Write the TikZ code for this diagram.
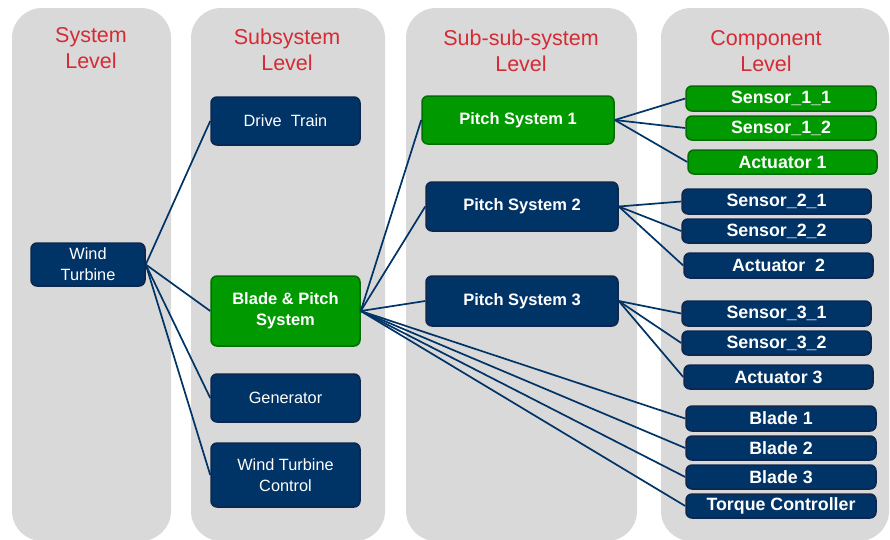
\documentclass[tikz,border=0pt]{standalone}
\usepackage{fontspec}
\setmainfont{Liberation Sans}
\definecolor{navy}{RGB}{0,51,102}
\definecolor{navyedge}{RGB}{14,38,76}
\definecolor{grn}{RGB}{0,153,0}
\definecolor{grnedge}{RGB}{0,110,0}
\definecolor{colbg}{RGB}{217,217,217}
\definecolor{titlered}{RGB}{213,43,52}
\definecolor{linkc}{RGB}{0,51,102}
\begin{document}
\begin{tikzpicture}[x=1pt,y=-1pt,
 col/.style={fill=colbg, rounded corners=30pt},
 ttl/.style={text=titlered, font=\fontsize{21.5}{26}\selectfont, align=center},
 box/.style={draw=navyedge, fill=navy, line width=1.5pt, rounded corners=6pt, text=white, align=center, inner sep=0pt},
 gbox/.style={box, draw=grnedge, fill=grn},
 sub/.style={font=\fontsize{16.3}{21}\selectfont},
 subb/.style={font=\fontsize{16.5}{21}\selectfont\bfseries},
 comp/.style={font=\fontsize{17.8}{20}\selectfont\bfseries},
 link/.style={draw=linkc, line width=1.7pt}
]
\useasboundingbox (0,0) rectangle (890,539);
\begin{scope}
\clip (0,0) rectangle (890,539);
\fill[col] (12,8) rectangle (171,541);
\fill[col] (191,8) rectangle (385,541);
\fill[col] (406,8) rectangle (637,541);
\fill[col] (661,8) rectangle (889,541);
\end{scope}

\node[ttl] (t1) at (91,48) {System\\Level};
\node[ttl] (t2) at (287,50) {Subsystem\\Level};
\node[ttl] (t3) at (521,51) {Sub-sub-system\\Level};
\node[ttl] (t4) at (766,51) {Component\\Level};

% system / subsystem
\node[box, sub, minimum width=114pt, minimum height=43pt] (wt) at (88,264.5) {Wind\\Turbine};
\node[box, sub, minimum width=149pt, minimum height=48pt] (dt) at (285.5,121) {Drive~~Train};
\node[gbox, subb, minimum width=149pt, minimum height=70pt] (bp) at (285.5,311) {Blade \& Pitch\\System};
\node[box, sub, minimum width=149pt, minimum height=48pt] (gen) at (285.5,398) {Generator};
\node[box, sub, minimum width=149pt, minimum height=64pt] (wtc) at (285.5,475) {Wind Turbine\\Control};

% sub-sub-system
\node[gbox, subb, minimum width=192pt, minimum height=48pt] (ps1) at (518,120) {Pitch System 1};
\node[box, subb, minimum width=192pt, minimum height=49pt] (ps2) at (522,206.5) {Pitch System 2};
\node[box, subb, minimum width=192pt, minimum height=50pt] (ps3) at (522,301) {Pitch System 3};

% components
\node[gbox, comp, minimum width=190pt, minimum height=25pt] (s11) at (781,98.5) {Sensor\_1\_1};
\node[gbox, comp, minimum width=190pt, minimum height=24pt] (s12) at (781,128) {Sensor\_1\_2};
\node[gbox, comp, minimum width=189pt, minimum height=24pt] (a1) at (782.5,162) {Actuator 1};
\node[box, comp, minimum width=189pt, minimum height=25pt] (s21) at (776.5,201.5) {Sensor\_2\_1};
\node[box, comp, minimum width=189pt, minimum height=24pt] (s22) at (776.5,231) {Sensor\_2\_2};
\node[box, comp, minimum width=189pt, minimum height=25pt] (a2) at (778.5,265.5) {Actuator~~2};
\node[box, comp, minimum width=189pt, minimum height=25pt] (s31) at (776.5,313.5) {Sensor\_3\_1};
\node[box, comp, minimum width=189pt, minimum height=24pt] (s32) at (776.5,343) {Sensor\_3\_2};
\node[box, comp, minimum width=189pt, minimum height=24pt] (a3) at (778.5,377) {Actuator 3};
\node[box, comp, minimum width=190pt, minimum height=25pt] (b1) at (781,418.5) {Blade 1};
\node[box, comp, minimum width=190pt, minimum height=24pt] (b2) at (781,448) {Blade 2};
\node[box, comp, minimum width=190pt, minimum height=24pt] (b3) at (781,477) {Blade 3};
\node[box, comp, minimum width=190pt, minimum height=24pt] (tc) at (781,506) {Torque Controller};

% connectors
\foreach \t in {dt,bp,gen,wtc} \draw[link] (wt.east) -- (\t.west);
\foreach \t in {ps1,ps2,ps3,b1,b2,b3,tc} \draw[link] (bp.east) -- (\t.west);
\foreach \t in {s11,s12,a1} \draw[link] (ps1.east) -- (\t.west);
\foreach \t in {s21,s22,a2} \draw[link] (ps2.east) -- (\t.west);
\foreach \t in {s31,s32,a3} \draw[link] (ps3.east) -- (\t.west);
\end{tikzpicture}
\end{document}
